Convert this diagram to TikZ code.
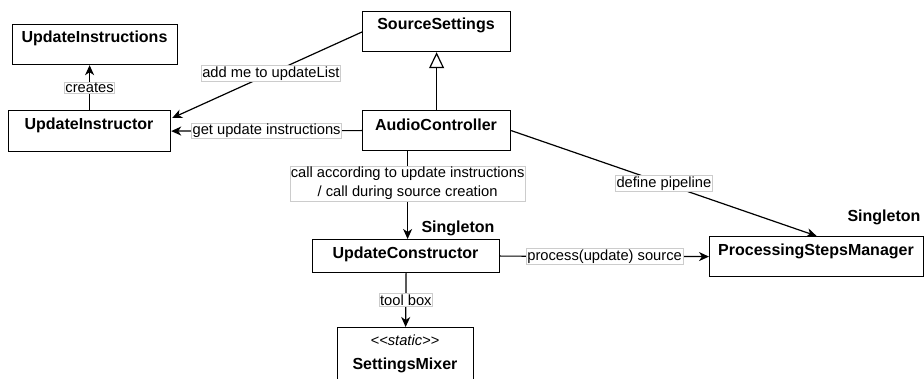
\documentclass[tikz,border=0pt]{standalone}
\usepackage{fontspec}
\setmainfont{Liberation Sans}
\usetikzlibrary{arrows.meta,calc}
\begin{document}
\begin{tikzpicture}[x=1pt,y=-1pt,
 box/.style={draw, line width=1.2pt, inner sep=0, anchor=north west},
 ttl/.style={font=\fontsize{16}{19}\selectfont\bfseries, inner sep=0},
 lbl/.style={font=\fontsize{14.7}{19}\selectfont, fill=white, draw=black!20, line width=0.5pt, inner sep=1pt, align=center},
 arr/.style={line width=1.2pt, -{Stealth[length=10pt,width=9pt,inset=3pt]}},
 ln/.style={line width=1.2pt}]
\clip (0,0) rectangle (924,379);
\fill[white] (0,0) rectangle (924,379);
% boxes
\node[box, minimum width=165pt, minimum height=40pt] (ui) at (12,24) {};
\node[ttl] (uit) at (94.5,38) {UpdateInstructions};
\node[box, minimum width=162pt, minimum height=41pt] (uir) at (8,110) {};
\node[ttl] (uirt) at (89,125) {UpdateInstructor};
\node[box, minimum width=148pt, minimum height=40pt] (ss) at (362,11) {};
\node[ttl] (sst) at (436,25) {SourceSettings};
\node[box, minimum width=148pt, minimum height=40pt] (ac) at (362,110) {};
\node[ttl] (act) at (436,125) {AudioController};
\node[box, minimum width=187pt, minimum height=33pt] (uc) at (312,239) {};
\node[ttl] (uct) at (405.5,254) {UpdateConstructor};
\node[box, minimum width=136pt, minimum height=70pt] (sm) at (337,327) {};
\node[font=\fontsize{14.7}{17}\selectfont\itshape, inner sep=0] (smst) at (405,340) {<{}<static>{}>};
\node[ttl] (smt) at (405,365) {SettingsMixer};
\node[box, minimum width=214pt, minimum height=40pt] (psm) at (709,236) {};
\node[ttl] (psmt) at (816,251) {ProcessingStepsManager};
\node[ttl] (s1) at (458,228) {Singleton};
\node[ttl] (s2) at (884,217) {Singleton};
% connectors
\draw[arr] (uir.north) -- (uir.north |- ui.south) node[lbl, midway] {creates};
\draw[arr] ($(ss.north west)+(0,21)$) -- ($(uir.north east)+(1,8)$) node[lbl, pos=0.48] {add me to updateList};
\draw[arr] (ac.west) -- (uir.east) node[lbl, pos=0.5] {get update instructions};
\draw[ln, -{Triangle[open, length=16pt, width=15pt]}] (ac.north) -- (ss.south);
\draw[arr] ($(uc.north |- ac.south)+(1.5,0)$) -- ($(uc.north)+(1.5,0)$) node[lbl, pos=0.37] {call according to update instructions\\/ call during source creation};
\draw[arr] (ac.east) -- (psm.north) node[lbl, pos=0.5] {define pipeline};
\draw[arr] (uc.east) -- (psm.west) node[lbl, pos=0.5] {process(update) source};
\draw[arr] (uc.south) -- (sm.north) node[lbl, pos=0.5] {tool box};
\end{tikzpicture}
\end{document}
